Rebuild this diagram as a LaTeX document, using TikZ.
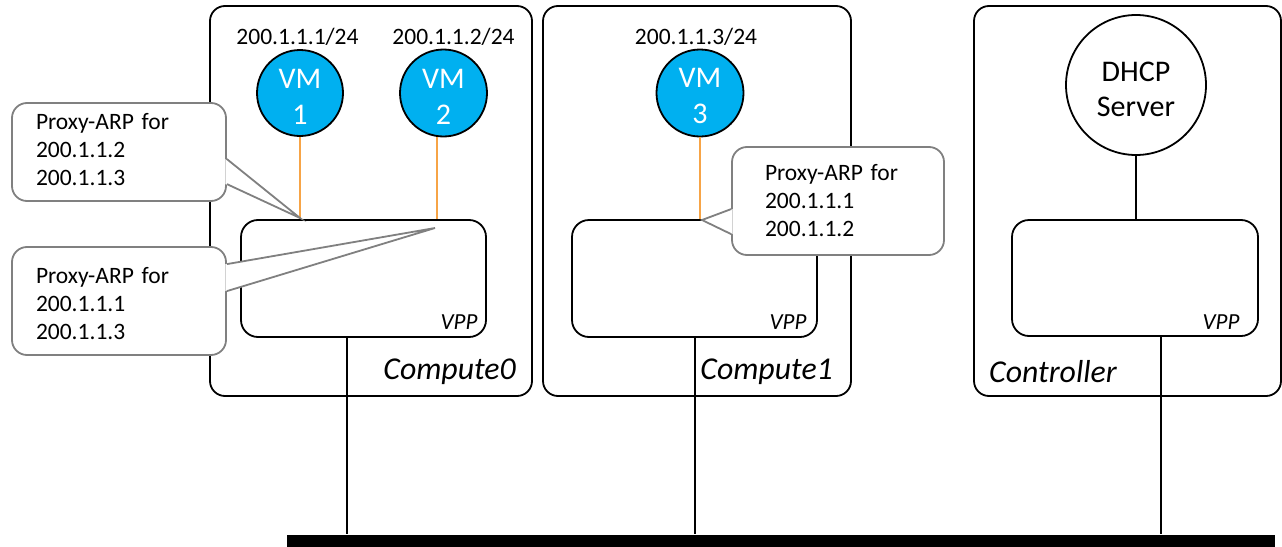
\documentclass[tikz,border=0pt]{standalone}
\usepackage{fontspec}
\setmainfont{Carlito}
\usetikzlibrary{calc}
\definecolor{vmblue}{HTML}{00B0F0}
\definecolor{linkorange}{HTML}{F7A446}
\definecolor{calloutgray}{HTML}{808080}
% invisible strut that pushes the first line of a label down
\newcommand{\toppad}[1]{\rule{0pt}{#1}}
\tikzset{
  hostbox/.style={draw, line width=1.8pt, rounded corners=15pt},
  vppbox/.style={draw, line width=1.8pt, rounded corners=17pt, fill=white,
    minimum width=245pt, minimum height=117pt},
  vmnode/.style={circle, draw, line width=1.8pt, fill=vmblue, text=white,
    minimum size=86pt, align=center, font=\fontsize{30}{36}\selectfont},
  srvnode/.style={circle, draw, line width=1.8pt, fill=white,
    minimum size=140pt, align=center, font=\fontsize{30}{35}\selectfont},
  iplabel/.style={font=\fontsize{23.5}{28}\selectfont},
  vpplabel/.style={font=\fontsize{23}{28}\selectfont\itshape},
  hostlabel/.style={font=\fontsize{31.8}{36}\selectfont\itshape},
  callout/.style={draw=calloutgray, line width=1.8pt, fill=white,
    rounded corners=15pt, align=left, inner xsep=24pt,
    font=\fontsize{23.5}{28}\selectfont},
  pointer/.style={draw=calloutgray, line width=1.8pt, line join=miter},
  vmlink/.style={draw=linkorange, line width=1.8pt},
  link/.style={draw, line width=1.8pt},
  bus/.style={fill=black, minimum width=988pt, minimum height=12pt}
}
\begin{document}
\begin{tikzpicture}[x=1pt, y=-1pt, every node/.append style={inner sep=0pt}]
\useasboundingbox (0,0) rectangle (1282,546);

% hosts
\node[hostbox, minimum width=322pt, minimum height=390pt] (c0) at (371,201) {};
\node[hostbox, minimum width=308pt, minimum height=390pt] (c1) at (697,201) {};
\node[hostbox, minimum width=307pt, minimum height=390pt] (ctl) at (1127.5,201) {};
\node[hostlabel, anchor=east] (c0l) at (516,372) {Compute0};
\node[hostlabel, anchor=east] (c1l) at (833,372) {Compute1};
\node[hostlabel, anchor=west] (ctll) at (989,372) {Controller};

% VPP instances
\node[vppbox] (vpp0) at (363.5,278.5) {};
\node[vppbox] (vpp1) at (694.5,278.5) {};
\node[vppbox, minimum width=246pt, minimum height=116pt] (vppc) at (1135,278) {};
\node[vpplabel] (vpp0l) at (459,322) {VPP};
\node[vpplabel] (vpp1l) at (788,322) {VPP};
\node[vpplabel] (vppcl) at (1221,322) {VPP};

% virtual machines and DHCP server
\node[vmnode] (vm1) at (300,93) {\toppad{26pt}VM\\1};
\node[vmnode, minimum size=87pt] (vm2) at (443.5,93) {\toppad{26pt}VM\\2};
\node[vmnode, minimum size=87pt] (vm3) at (700,93) {\toppad{26pt}VM\\3};
\node[srvnode] (dhcp) at (1136,85) {\toppad{28pt}DHCP\\Server};
\node[iplabel] (ip1) at (297.5,37) {200.1.1.1/24};
\node[iplabel] (ip2) at (453.5,37) {200.1.1.2/24};
\node[iplabel] (ip3) at (696,37) {200.1.1.3/24};

% VM to VPP links
\draw[vmlink] (vm1.south) -- (vm1.south |- vpp0.north);
\draw[vmlink] (vm2.-98.6) -- (vm2.-98.6 |- vpp0.north);
\draw[vmlink] (vm3.south) -- (vm3.south |- vpp1.north);
\draw[link] (dhcp.south) -- (dhcp.south |- vppc.north);

% shared network
\node[bus] (bus) at (781,540.5) {};
\draw[link] (vpp0.south -| 347,0) -- (bus.north -| 347,0);
\draw[link] (vpp1.south -| 695,0) -- (bus.north -| 695,0);
\draw[link] (vppc.south -| 1161,0) -- (bus.north -| 1161,0);

% proxy-ARP callouts
\coordinate (t1) at (300,218);
\coordinate (t2) at (435,228);
\coordinate (t3) at (702,220);

\node[callout, minimum width=214pt, minimum height=98pt, text width=166pt]
  (co1) at (119,152) {Proxy-ARP for\\200.1.1.2\\200.1.1.3\rule[-5pt]{0pt}{5pt}};
\fill[white] ([xshift=-1.5pt,yshift=-57pt]co1.north east) -- (t1)
  -- ([xshift=-1.5pt,yshift=-82pt]co1.north east) -- cycle;
\draw[pointer] ([yshift=-57pt]co1.north east) -- (t1) -- ([yshift=-82pt]co1.north east);

\node[callout, minimum width=214pt, minimum height=108pt, text width=166pt]
  (co2) at (119,301) {\toppad{22pt}Proxy-ARP for\\200.1.1.1\\200.1.1.3};
\fill[white] ([xshift=-1.5pt,yshift=-18pt]co2.north east) -- (t2)
  -- ([xshift=-1.5pt,yshift=-45pt]co2.north east) -- cycle;
\draw[pointer] ([yshift=-18pt]co2.north east) -- (t2) -- ([yshift=-45pt]co2.north east);

\node[callout, minimum width=212pt, minimum height=108pt, inner xsep=33pt, text width=146pt]
  (co3) at (838,201) {Proxy-ARP for\\200.1.1.1\\200.1.1.2};
\fill[white] ([xshift=1.5pt,yshift=-63pt]co3.north west) -- (t3)
  -- ([xshift=1.5pt,yshift=-88pt]co3.north west) -- cycle;
\draw[pointer] ([yshift=-63pt]co3.north west) -- (t3) -- ([yshift=-88pt]co3.north west);
\end{tikzpicture}
\end{document}
